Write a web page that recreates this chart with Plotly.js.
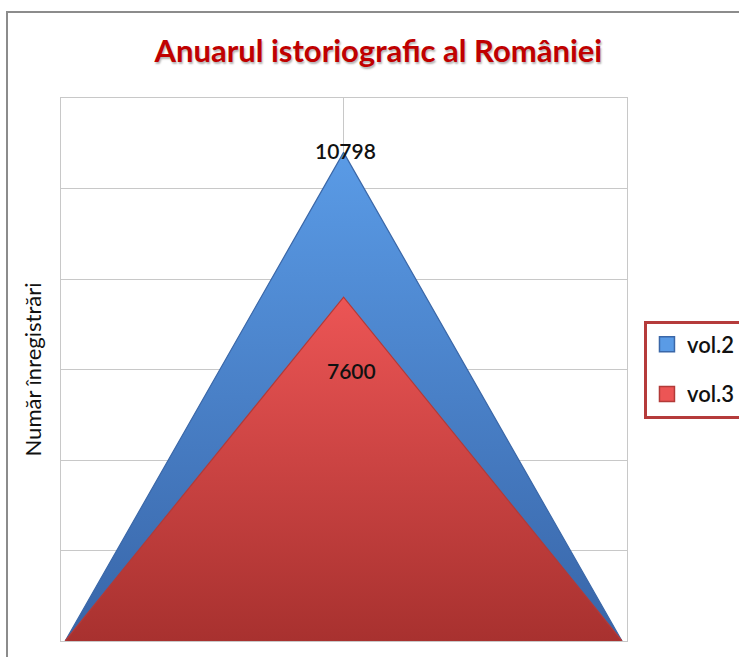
<!DOCTYPE html>
<html>
<head>
<meta charset="utf-8">
<script src="https://cdn.plot.ly/plotly-3.0.1.min.js"></script>
<style>
  html, body { margin: 0; padding: 0; background: #fff; }
  #wrap { position: relative; width: 739px; height: 657px; overflow: hidden; }
  #chart { position: absolute; left: 0; top: 0; width: 739px; height: 657px; }
  #frame { position: absolute; left: 6px; top: 11px; width: 800px; height: 700px;
           border-left: 2px solid #8c8c8c; border-top: 2px solid #8c8c8c; pointer-events: none; }
</style>
</head>
<body>
<div id="wrap">
  <div id="chart"></div>
  <div id="frame"></div>
</div>
<script>
/* ── DATA ─────────────────────────────── */
const categories = [0, 1, 2];
const vol2 = [0, 10798, 0];
const vol3 = [0, 7600, 0];
const seriesNames = ['vol.2', 'vol.3'];

const FONT = 'Lato, "Open Sans", sans-serif';

const BLUE = { dark: '#3865a8', light: '#5a9be6', edge: '#3a67a8' };
const RED  = { dark: '#a8312f', light: '#ec5555', edge: '#b23a38' };

function areaTrace(y, name, c) {
  return {
    type: 'scatter',
    mode: 'lines',
    x: categories,
    y,
    name,
    showlegend: false,
    fill: 'tozeroy',
    fillgradient: {
      type: 'vertical',
      start: 0,
      stop: Math.max(...y),
      colorscale: [[0, c.dark], [1, c.light]],
    },
    fillcolor: c.light,
    line: { color: c.edge, width: 1.2 },
    hoverinfo: 'skip',
  };
}

// legend-only entries with square swatches, like the original
function legendEntry(name, c, group) {
  return {
    type: 'scatter',
    mode: 'markers',
    x: [null], y: [null],
    name,
    legendgroup: group,
    marker: { symbol: 'square', size: 15, color: c.light, line: { color: c.edge, width: 1.5 } },
  };
}

const traces = [
  areaTrace(vol2, seriesNames[0], BLUE),
  areaTrace(vol3, seriesNames[1], RED),
  legendEntry(seriesNames[0], BLUE, 'a'),
  legendEntry(seriesNames[1], RED, 'b'),
];

// data labels at each peak
const peak = 1;
const annotations = [
  { x: categories[peak], y: vol2[peak], text: String(vol2[peak]), yanchor: 'middle', xshift: 2, yshift: 2 },
  { x: categories[peak], y: vol3[peak], text: String(vol3[peak]), yanchor: 'middle', xshift: 8, yshift: -73 },
].map(a => ({ ...a, xref: 'x', yref: 'y', showarrow: false,
  font: { family: FONT, size: 21, color: '#111', weight: 600 } }));

const layout = {
  width: 739,
  height: 657,
  paper_bgcolor: '#ffffff',
  plot_bgcolor: '#ffffff',
  margin: { l: 61, r: 112, t: 98, b: 16, autoexpand: false },
  title: {
    text: 'Anuarul istoriografic al României',
    x: 0.512, xanchor: 'center',
    y: 0.922, yanchor: 'middle',
    font: { family: FONT, size: 31, color: '#c00000', weight: 'bold', shadow: '1px 2px 2px rgba(0,0,0,0.3)' },
  },
  xaxis: {
    range: [-0.015, 2.018],
    tickvals: [1],
    showticklabels: false,
    showgrid: true,
    gridcolor: '#c8c8c8',
    showline: true, mirror: true, linecolor: '#c8c8c8', linewidth: 1,
    zeroline: false,
    fixedrange: true,
  },
  yaxis: {
    range: [0, 12000],
    dtick: 2000,
    showticklabels: false,
    showgrid: true,
    gridcolor: '#c8c8c8',
    showline: true, mirror: true, linecolor: '#c8c8c8', linewidth: 1,
    zeroline: false,
    title: { text: 'Număr înregistrări', standoff: 12, font: { family: FONT, size: 22, color: '#111' } },
    fixedrange: true,
  },
  showlegend: true,
  legend: {
    x: 1.03, xanchor: 'left',
    y: 0.5, yanchor: 'middle',
    bgcolor: '#ffffff',
    bordercolor: '#b53b3b',
    borderwidth: 3,
    font: { family: FONT, size: 22, color: '#111', weight: 600 },
    itemwidth: 30,
    tracegroupgap: 18,
    traceorder: 'grouped',
  },
  annotations,
};

Plotly.newPlot('chart', traces, layout, { displayModeBar: false, responsive: false });
</script>
</body>
</html>
